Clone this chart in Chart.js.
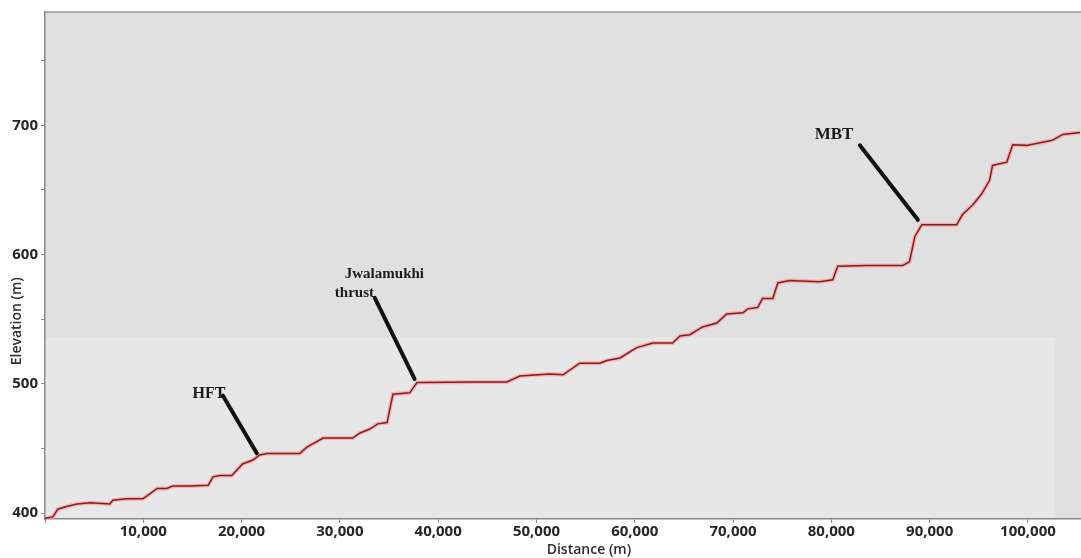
<!DOCTYPE html>
<html>
<head>
<meta charset="utf-8">
<script src="https://cdn.jsdelivr.net/npm/chart.js@4.4.0/dist/chart.umd.min.js"></script>
<style>
  html, body { margin: 0; padding: 0; background: #ffffff; }
  #wrap { width: 1081px; height: 558px; position: relative; }
</style>
</head>
<body>
<div id="wrap"><canvas id="profile"></canvas></div>
<script>
// Distance along profile (m)
const distances = [0, 800, 1300, 2200, 3250, 4600, 6600, 6900, 8350, 9950,
  10700, 11400, 12400, 13000, 14750, 16600, 17100, 17800, 19000, 20100,
  21150, 21850, 22600, 25900, 26650, 28300, 31300, 32050, 33050, 33850,
  34800, 35100, 35400, 37100, 37850, 38450, 43500, 47000, 48300, 51350,
  52700, 54400, 56450, 57150, 58500, 60200, 61850, 63850, 64600, 65600,
  66900, 68350, 69350, 71000, 71500, 72500, 73000, 74050, 74550, 75750,
  78800, 80150, 80650, 83600, 87250, 87950, 88500, 89200, 92750, 93350,
  94400, 95300, 96100, 96400, 97850, 98450, 99850, 102500, 103550, 105300];

// Elevation (m)
const elevations = [396, 397, 403, 405, 407, 408, 407, 410, 411, 411,
  415, 419, 419, 421, 421, 421.5, 428, 429, 429, 438,
  441, 445, 446, 446, 451, 458, 458, 462, 465, 469,
  470, 481, 492, 493, 501, 501, 501.5, 501.5, 506, 507.5,
  507, 516, 516, 518, 520, 528, 531.5, 531.5, 537, 538,
  544, 547, 554, 555, 558, 559, 566, 566, 578, 580,
  579, 580.5, 591, 591.5, 591.5, 594.5, 614, 623, 623, 631,
  638.5, 647, 657.5, 669, 671.5, 685, 684.5, 688.5, 693, 694.5];

const xTicks = [0, 10000, 20000, 30000, 40000, 50000, 60000, 70000, 80000, 90000, 100000];
const yTicks = [400, 450, 500, 550, 600, 650, 700, 750];
const yLabelled = [400, 500, 600, 700];

// fault labels: text lines, text anchor and pointer line (data units)
const faultNames = [['HFT'], ['Jwalamukhi', 'thrust'], ['MBT']];
const faultTextAt = [[15000, 492.5], [30500, 584.5], [78300, 693]];
const faultLineFrom = [[18100, 490.8], [33550, 566.5], [82900, 684.6]];
const faultLineTo = [[21550, 446.2], [37600, 503.8], [88800, 626.9]];

const points = distances.map((d, i) => ({ x: d, y: elevations[i] }));

const backdrop = {
  id: 'backdrop',
  beforeDraw(chart) {
    const { ctx, chartArea: a } = chart;
    ctx.save();
    ctx.fillStyle = '#ffffff';
    ctx.fillRect(0, 0, chart.width, chart.height);
    ctx.fillStyle = '#e0e0e0';
    ctx.fillRect(a.left, a.top, a.right - a.left, a.bottom - a.top);
    // lighter lower band of the scanned figure
    const bandTop = a.top + (a.bottom - a.top) * 0.643;
    ctx.fillStyle = '#e7e7e7';
    ctx.fillRect(a.left, bandTop, (a.right - a.left) * 0.975, a.bottom - bandTop);
    ctx.strokeStyle = '#9a9a9a';
    ctx.lineWidth = 1.5;
    ctx.beginPath();
    ctx.moveTo(a.left, a.top);
    ctx.lineTo(a.right, a.top);
    ctx.stroke();
    ctx.restore();
  }
};

const faults = {
  id: 'faults',
  afterDatasetsDraw(chart) {
    const { ctx, scales: { x, y } } = chart;
    ctx.save();
    faultNames.forEach((lines, i) => {
      ctx.strokeStyle = '#111111';
      ctx.lineWidth = 4;
      ctx.lineCap = 'round';
      ctx.beginPath();
      ctx.moveTo(x.getPixelForValue(faultLineFrom[i][0]), y.getPixelForValue(faultLineFrom[i][1]));
      ctx.lineTo(x.getPixelForValue(faultLineTo[i][0]), y.getPixelForValue(faultLineTo[i][1]));
      ctx.stroke();

      ctx.fillStyle = '#1a1a1a';
      ctx.textBaseline = 'middle';
      ctx.textAlign = 'left';
      const size = lines.length > 1 ? 15 : (i === 2 ? 17 : 16);
      ctx.font = 'bold ' + size + 'px "Liberation Serif", "Times New Roman", serif';
      const tx = x.getPixelForValue(faultTextAt[i][0]);
      const ty = y.getPixelForValue(faultTextAt[i][1]);
      lines.forEach((t, j) => {
        ctx.fillText(t, tx - (j > 0 ? 10 : 0), ty + j * 19);
      });
    });
    ctx.restore();
  }
};

const axisTitles = {
  id: 'axisTitles',
  afterDraw(chart) {
    const { ctx, chartArea: a } = chart;
    ctx.save();
    ctx.fillStyle = '#2e2e2e';
    ctx.font = '600 14px "Open Sans", sans-serif';
    ctx.textAlign = 'center';
    ctx.textBaseline = 'middle';
    ctx.fillText('Distance (m)', a.left + (a.right - a.left) * 0.525, 550);
    ctx.translate(17, a.top + (a.bottom - a.top) * 0.61);
    ctx.rotate(-Math.PI / 2);
    ctx.fillText('Elevation (m)', 0, 0);
    ctx.restore();
  }
};

new Chart(document.getElementById('profile'), {
  type: 'line',
  data: {
    datasets: [
      {
        data: points,
        borderColor: '#8e1b1b',
        borderWidth: 1.5,
        pointRadius: 0,
        tension: 0
      },
      {
        data: points,
        borderColor: 'rgba(238, 160, 160, 0.7)',
        borderWidth: 4,
        pointRadius: 0,
        tension: 0
      }
    ]
  },
  options: {
    responsive: true,
    maintainAspectRatio: false,
    animation: false,
    layout: { padding: { top: 9, right: 0, left: 0, bottom: 0 } },
    plugins: {
      legend: { display: false },
      tooltip: { enabled: false }
    },
    scales: {
      x: {
        type: 'linear',
        min: 0,
        max: 105400,
        afterBuildTicks: axis => { axis.ticks = xTicks.map(v => ({ value: v })); },
        afterFit: scale => { scale.height = 39; },
        grid: { display: true, drawOnChartArea: false, drawTicks: true, tickLength: 4, color: '#8a8a8a' },
        border: { color: '#8a8a8a', width: 1.5 },
        ticks: {
          padding: 0,
          color: '#262626',
          font: { family: 'Open Sans', size: 15, weight: '700' },
          maxRotation: 0,
          autoSkip: false,
          callback: v => (v === 0 ? '' : v.toLocaleString('en-US'))
        }
      },
      y: {
        type: 'linear',
        min: 395.4,
        max: 787.7,
        afterBuildTicks: axis => { axis.ticks = yTicks.map(v => ({ value: v })); },
        afterFit: scale => { scale.width = 45; },
        grid: { display: true, drawOnChartArea: false, drawTicks: true, tickLength: 4, color: '#8a8a8a' },
        border: { color: '#8a8a8a', width: 1.5 },
        ticks: {
          padding: 3,
          color: '#262626',
          font: { family: 'Open Sans', size: 15, weight: '700' },
          autoSkip: false,
          callback: v => (yLabelled.includes(v) ? String(v) : '')
        }
      }
    }
  },
  plugins: [backdrop, faults, axisTitles]
});
</script>
</body>
</html>
